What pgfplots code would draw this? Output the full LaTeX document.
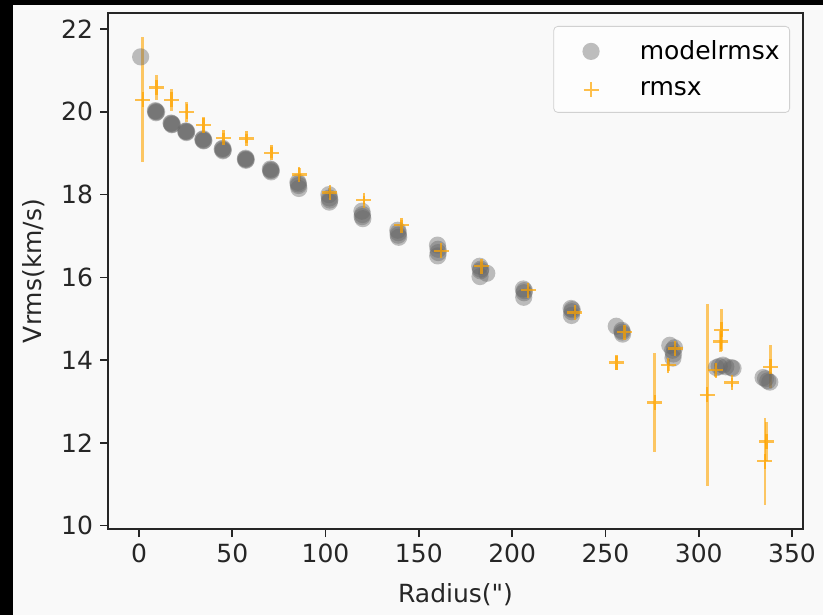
\documentclass[border=0pt]{standalone}
\usepackage{pgfplots}
\pgfplotsset{compat=1.18}
\usepackage{pgfplotstable}
\usepackage{fontspec}
\setmainfont{DejaVu Sans}[Ligatures=TeXOff]
\definecolor{bg}{HTML}{F9F9F9}
\definecolor{mpor}{HTML}{FFA500}
\definecolor{mgray}{HTML}{666666}
\definecolor{axc}{HTML}{262626}

\pgfplotstableread{
x y
0.9 21.33
8.8 20.03
9.1 19.98
9.5 20.00
9.0 20.01
17.2 19.73
17.6 19.69
17.9 19.70
17.4 19.72
25.0 19.53
25.4 19.50
25.6 19.52
25.2 19.54
34.2 19.33
34.6 19.30
34.8 19.31
34.4 19.35
44.6 19.10
45.0 19.06
45.2 19.08
44.9 19.12
57.0 18.86
57.3 18.83
57.5 18.85
57.2 18.88
70.4 18.62
70.8 18.55
70.6 18.58
70.9 18.60
85.2 18.30
85.5 18.22
85.7 18.15
85.4 18.26
101.8 18.00
102.1 17.92
102.0 17.82
102.3 17.87
119.5 17.60
119.8 17.52
120.0 17.42
119.6 17.47
138.7 17.14
139.0 17.08
139.2 16.97
138.9 17.02
160.0 16.78
160.3 16.68
160.1 16.52
160.4 16.60
182.6 16.27
183.0 16.16
182.8 16.02
186.4 16.10
183.2 16.20
206.0 15.72
206.4 15.63
206.2 15.52
206.6 15.68
231.6 15.25
232.0 15.17
231.8 15.08
232.2 15.22
255.8 14.82
258.8 14.72
259.2 14.63
259.0 14.68
284.5 14.36
286.0 14.24
286.5 14.15
287.0 14.30
286.2 14.05
309.5 13.82
311.0 13.85
313.0 13.88
314.5 13.84
318.4 13.80
317.5 13.82
334.5 13.58
335.8 13.55
337.0 13.50
338.1 13.47
}\modeltable

\pgfplotstableread{
x y e
2.0 20.29 1.51
9.5 20.59 0.30
17.5 20.29 0.27
25.6 20.00 0.25
34.5 19.68 0.20
45.2 19.37 0.12
57.7 19.36 0.10
71.1 19.01 0.13
85.9 18.49 0.15
102.3 18.05 0.12
120.6 17.87 0.10
140.8 17.26 0.12
161.9 16.64 0.10
183.6 16.27 0.10
208.6 15.69 0.08
233.6 15.15 0.08
260.3 14.68 0.15
255.9 13.94 0.17
276.5 12.98 1.20
287.3 14.28 0.10
283.6 13.88 0.15
304.5 13.16 2.20
309.2 13.76 0.17
312.2 14.73 0.50
311.8 14.45 0.25
317.8 13.46 0.12
338.5 13.84 0.52
336.4 12.03 0.47
335.5 11.56 1.05
}\datatable

\begin{document}
\begin{tikzpicture}[font=\fontsize{12.5}{15}\selectfont]
\fill[bg] (0pt,0pt) rectangle (411.5pt,307.5pt);
\fill[black] (0pt,0pt) rectangle (6.5pt,307.5pt);
\fill[black] (0pt,305pt) rectangle (411.5pt,307.5pt);
\path[use as bounding box] (0pt,0pt) rectangle (411.5pt,307.5pt);
\begin{axis}[
  at={(54pt,43pt)}, anchor=south west,
  width=347.5pt, height=258pt, scale only axis,
  xmin=-16.6, xmax=355.9, ymin=9.92, ymax=22.39,
  xtick={0,50,...,350}, ytick={10,12,...,22},
  xtick pos=left, ytick pos=left,
  tick align=outside, major tick length=4pt,
  tick style={line width=0.8pt, color=axc},
  axis line style={line width=1pt, color=axc},
  ticklabel style={color=axc},
  /pgf/number format/assume math mode=true,
  xlabel={Radius(")}, ylabel={Vrms(km/s)},
  label style={color=axc},
  xlabel style={at={(axis description cs:0.5,-0.128)}, anchor=center},
  ylabel style={at={(axis description cs:-0.1065,0.5)}, anchor=center},
  axis background/.style={fill=bg},
  legend style={at={(1,1)}, anchor=north east, xshift=-6.5pt, yshift=-6.5pt,
    draw=black!18, rounded corners=2pt, fill=white, fill opacity=0.8, text opacity=1,
    inner xsep=3pt, inner ysep=5pt, row sep=5.5pt},
  legend cell align=left,
  legend image code/.code={%
    \path (-6.5pt,0pt) (30.3pt,0pt);
    \draw[mark repeat=2,mark phase=2,#1] plot coordinates {(0cm,0cm) (0.3cm,0cm) (0.6cm,0cm)};},
]
\addplot[only marks, mark=*, mark size=4.3pt,
  mark options={fill=mgray, draw=mgray, fill opacity=0.42, draw opacity=0}]
  table[x=x, y=y] {\modeltable};
\addlegendentry{modelrmsx}
\addplot[only marks, mark=+, mark size=3.75pt, color=mpor, opacity=0.7, line width=1.2pt,
  error bars/.cd, y dir=both, y explicit,
  error bar style={line width=1.4pt, color=mpor, opacity=0.6}, error mark=none]
  table[x=x, y=y, y error=e] {\datatable};
\addlegendentry{rmsx}
\end{axis}
\end{tikzpicture}
\end{document}
